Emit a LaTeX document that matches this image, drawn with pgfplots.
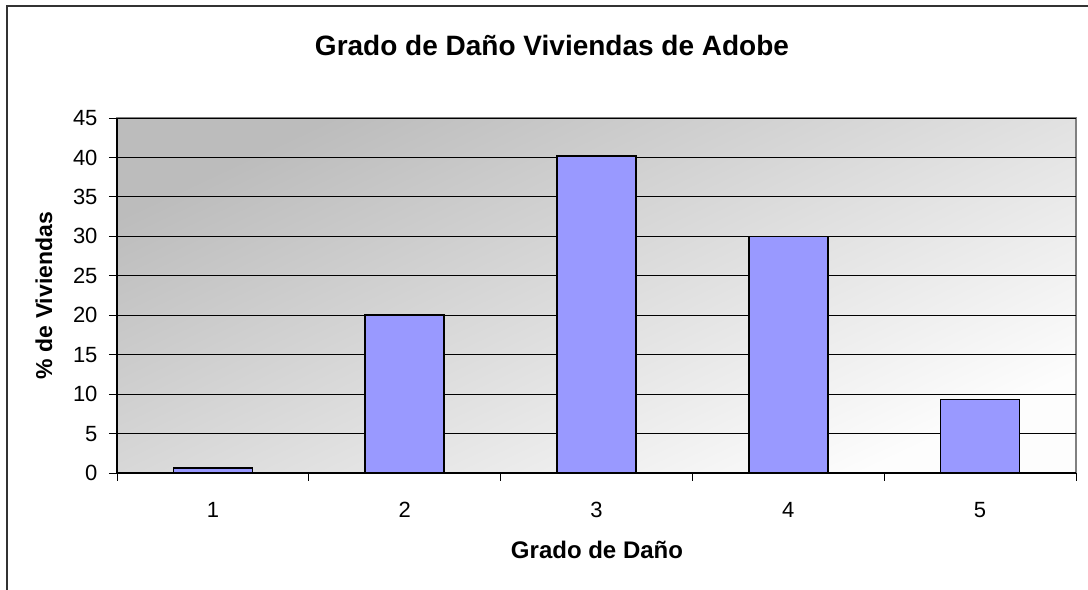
\documentclass[border=0pt]{standalone}
\usepackage{fontspec}
\setmainfont{Liberation Sans}
\usepackage{pgfplots}
\pgfplotsset{compat=1.18}
\definecolor{barblue}{RGB}{153,153,255}
\definecolor{bgdark}{RGB}{188,188,188}
\definecolor{bglight}{RGB}{253,253,253}
\begin{document}
\begin{tikzpicture}
\useasboundingbox (0,0) rectangle (1088bp,590bp);
\draw[line width=2bp, color=black!80] (7bp,0) -- (7bp,584bp) -- (1088bp,584bp);
\node[font=\fontsize{28bp}{32bp}\selectfont\bfseries] at (552bp,545bp) {Grado de Daño Viviendas de Adobe};
\node[font=\fontsize{23bp}{26bp}\selectfont\bfseries, rotate=90] at (44bp,294.5bp) {\% de Viviendas};
\node[font=\fontsize{24bp}{28bp}\selectfont\bfseries] at (597bp,40bp) {Grado de Daño};
\begin{axis}[
  at={(117bp,117bp)}, anchor=south west,
  width=959bp, height=355bp, scale only axis,
  xmin=0.5, xmax=5.5, ymin=0, ymax=45,
  ytick={0,5,...,45},
  xtick={1,2,3,4,5},
  minor xtick={0.5,1.5,2.5,3.5,4.5,5.5},
  major tick length=8bp,
  minor tick length=8bp,
  xtick style={draw=none},
  minor x tick style={draw=black, line width=0.8bp},
  ytick style={draw=black, line width=0.8bp},
  tick align=outside,
  axis x line*=bottom, axis y line*=left,
  axis line style={black, line width=1.2bp, -},
  ymajorgrids, grid style={black, line width=0.9bp},
  axis background/.style={shade, top color=bgdark, bottom color=bglight, shading angle=25, draw=gray, line width=1.2bp},
  /pgf/number format/assume math mode=true,
  ticklabel style={font=\fontsize{22bp}{25bp}\selectfont},
  yticklabel style={xshift=-8bp},
  xticklabel style={yshift=-18bp},
  ybar, bar width=79bp,
]
\addplot[fill=barblue, draw=black, line width=1.6bp] coordinates {(1,0.6) (2,20) (3,40.2) (4,30) (5,9.3)};
\end{axis}
\end{tikzpicture}
\end{document}
